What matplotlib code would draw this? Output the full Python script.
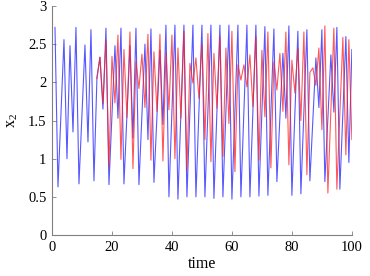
import numpy as np
import matplotlib
matplotlib.use("Agg")
import matplotlib.pyplot as plt

# blue trace (turning points, time / value)
blue_t = [1, 2, 4, 5, 6, 7, 8, 9, 11, 12, 13, 14, 15, 16, 17, 18, 19, 21, 22, 23,
          24, 26, 27, 28, 29, 31, 32, 33, 34, 36, 37, 38, 39, 41, 42, 44, 45, 47, 48, 50,
          51, 53, 54, 56, 57, 59, 60, 62, 63, 65, 66, 68, 69, 71, 72, 74, 75, 77, 78, 79,
          80, 82, 83, 85, 86, 88, 89, 90, 91, 93, 94, 95, 96, 98, 99, 100]
blue_x2 = [2.72, 0.63, 2.56, 1.00, 2.48, 1.35, 2.72, 0.67, 2.49, 1.22, 2.69, 0.71, 2.07, 2.33, 1.65, 2.71, 0.66, 2.48, 1.53, 2.71,
           0.67, 2.48, 1.27, 2.71, 0.66, 2.50, 1.25, 2.70, 0.69, 2.42, 1.45, 2.75, 0.50, 2.75, 0.47, 2.75, 0.50, 2.75, 0.50, 2.75,
           0.50, 2.75, 0.48, 2.75, 0.50, 2.75, 0.47, 2.75, 0.50, 2.75, 0.50, 2.75, 0.51, 2.73, 0.52, 2.70, 0.70, 2.38, 1.53, 2.74,
           0.52, 2.67, 0.54, 2.69, 0.71, 2.32, 1.67, 2.69, 0.70, 2.36, 1.61, 2.72, 0.60, 2.60, 0.95, 2.43]

# red trace
red_t = list(range(15, 93)) + [94, 95, 97, 98, 99, 100]
red_x2 = [2.05, 2.33, 1.72, 2.55, 0.90, 2.34, 1.73, 2.62, 0.99, 2.43,
          1.54, 2.66, 0.87, 2.27, 1.92, 2.37, 1.67, 2.63, 0.98, 2.40,
          1.62, 2.63, 0.97, 2.39, 1.64, 2.62, 1.00, 2.45, 1.53, 2.67,
          0.85, 2.25, 1.99, 2.32, 1.79, 2.50, 1.25, 2.64, 0.96, 2.38,
          1.66, 2.60, 1.03, 2.45, 1.46, 2.67, 0.83, 2.23, 2.03, 2.23,
          1.94, 2.36, 1.68, 2.60, 0.98, 2.42, 1.55, 2.66, 0.88, 2.27,
          1.90, 2.38, 1.62, 2.66, 0.92, 2.29, 1.86, 2.45, 1.50, 2.66,
          0.79, 2.13, 2.19, 1.96, 2.45, 1.38, 2.74, 0.55,
          2.71, 0.60, 2.59, 1.05, 2.56, 1.25]

yticks = [0, 0.5, 1, 1.5, 2, 2.5, 3]
ytick_labels = ["0", "0.5", "1", "1.5", "2", "2.5", "3"]
xticks = [0, 20, 40, 60, 80, 100]

plt.rcParams['font.family'] = ['Liberation Serif', 'DejaVu Serif']
plt.rcParams['mathtext.fontset'] = 'custom'
plt.rcParams['mathtext.rm'] = 'Liberation Serif'

fig = plt.figure(figsize=(3.70, 2.76), dpi=100)
ax = fig.add_axes([0.1405, 0.1486, 0.8105, 0.8295])

ax.plot(blue_t, blue_x2, color='#2020ff', lw=0.8, alpha=0.75)
ax.plot(red_t, red_x2, color='#ff2020', lw=0.8, alpha=0.75)

ax.set_xlim(0, 100)
ax.set_ylim(0, 3)
ax.set_xticks(xticks)
ax.set_yticks(yticks)
ax.set_yticklabels(ytick_labels)

for side in ['top', 'right']:
    ax.spines[side].set_visible(False)
for side in ['left', 'bottom']:
    ax.spines[side].set_color('#808080')
    ax.spines[side].set_linewidth(0.8)
ax.tick_params(direction='in', length=3, width=0.6, color='#808080', labelsize=10.5, pad=4)

ax.set_xlabel('time', fontsize=11.5, labelpad=1.5)
ax.set_ylabel(r'x$_\mathrm{2}$', fontsize=11.5, labelpad=6)

fig.savefig('out.png', dpi=100)
